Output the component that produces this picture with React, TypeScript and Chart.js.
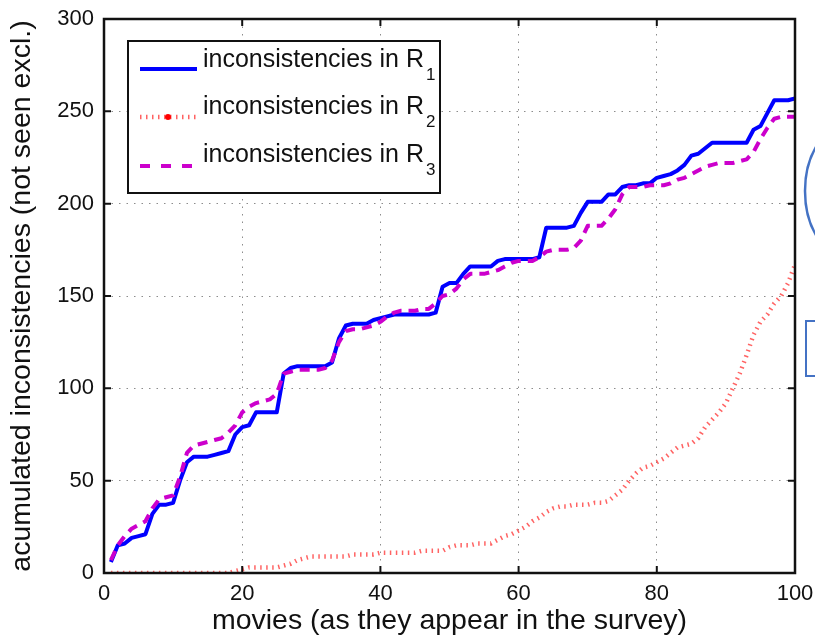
import { useEffect, useRef } from 'react';
import { Chart, registerables } from 'chart.js';

Chart.register(...registerables);

// Movie index (1..100) in survey order
const movies: number[] = Array.from({ length: 100 }, (_, i) => i + 1);

// Accumulated inconsistencies per ranking (not-seen answers excluded)
const inconsistenciesR1 = [
  6, 15, 16, 19, 20, 21, 32, 37, 37, 38,
  50, 60, 63, 63, 63, 64, 65, 66, 75, 79,
  80, 87, 87, 87, 87, 108, 111, 112, 112, 112,
  112, 112, 114, 127, 134, 135, 135, 135, 137, 138,
  139, 140, 140, 140, 140, 140, 140, 141, 155, 157,
  157, 162, 166, 166, 166, 166, 169, 170, 170, 170,
  170, 170, 171, 187, 187, 187, 187, 188, 195, 201,
  201, 201, 205, 205, 209, 210, 210, 211, 211, 214,
  215, 216, 218, 221, 226, 227, 230, 233, 233, 233,
  233, 233, 233, 240, 242, 249, 256, 256, 256, 257,
];

const inconsistenciesR2 = [
  0, 0, 0, 0, 0, 0, 0, 0, 0, 0,
  0, 0, 0, 0, 0, 0, 0, 0, 1, 2,
  3, 3, 3, 3, 3, 4, 5, 7, 8, 9,
  9, 9, 9, 9, 9, 10, 10, 10, 10, 11,
  11, 11, 11, 11, 11, 12, 12, 12, 12, 14,
  15, 15, 15, 16, 16, 16, 18, 20, 21, 23,
  25, 28, 30, 33, 35, 36, 36, 37, 37, 37,
  38, 38, 39, 42, 45, 50, 54, 57, 58, 60,
  62, 65, 68, 69, 70, 73, 79, 83, 87, 92,
  100, 108, 118, 129, 136, 140, 146, 150, 157, 167,
];

const inconsistenciesR3 = [
  7, 15, 20, 24, 26, 28, 35, 40, 41, 42,
  52, 65, 69, 70, 71, 72, 73, 76, 80, 87,
  90, 92, 93, 94, 97, 108, 109, 110, 110, 110,
  110, 111, 115, 125, 131, 132, 132, 133, 134, 136,
  139, 141, 142, 142, 142, 143, 143, 146, 150, 151,
  154, 159, 162, 162, 162, 163, 164, 166, 168, 169,
  169, 169, 171, 174, 175, 175, 175, 176, 180, 188,
  188, 188, 192, 197, 205, 209, 209, 209, 210, 210,
  210, 211, 213, 214, 216, 218, 220, 221, 222, 222,
  222, 223, 224, 228, 235, 241, 246, 247, 247, 247,
];

const xTicks = [0, 20, 40, 60, 80, 100];
const yTicks = [0, 50, 100, 150, 200, 250, 300];

const legendLabel = 'inconsistencies in R';
const legendSubscripts = ['1', '2', '3'];

const xTitle = 'movies (as they appear in the survey)';
const yTitle = 'acumulated inconsistencies (not seen excl.)';

const FONT = '"Liberation Sans", Arial, Helvetica, sans-serif';
const BLUE = '#0000ff';
const RED = 'rgba(255, 60, 60, 0.8)';
const MAGENTA = '#cc00cc';

const toPoints = (values: number[]) => movies.map((m, i) => ({ x: m, y: values[i] }));

// Box around the plot with inward tick marks on all four sides
const axesFrame = {
  id: 'axesFrame',
  afterDatasetsDraw(chart: any) {
    const { ctx, chartArea: a, scales } = chart;
    ctx.save();
    ctx.strokeStyle = '#111';
    ctx.lineWidth = 2;
    const tick = 7;
    ctx.beginPath();
    for (const v of xTicks) {
      const px = scales.x.getPixelForValue(v);
      ctx.moveTo(px, a.bottom);
      ctx.lineTo(px, a.bottom - tick);
      ctx.moveTo(px, a.top);
      ctx.lineTo(px, a.top + tick);
    }
    for (const v of yTicks) {
      const py = scales.y.getPixelForValue(v);
      ctx.moveTo(a.left, py);
      ctx.lineTo(a.left + tick, py);
      ctx.moveTo(a.right, py);
      ctx.lineTo(a.right - tick, py);
    }
    ctx.stroke();
    ctx.lineWidth = 2.5;
    ctx.strokeRect(a.left, a.top, a.right - a.left, a.bottom - a.top);
    ctx.restore();
  },
};

// Boxed legend in the upper-left corner of the plot
const legendBox = {
  id: 'legendBox',
  afterDraw(chart: any) {
    const { ctx } = chart;
    const box = { x: 128, y: 41, w: 312, h: 152 };
    ctx.save();
    ctx.fillStyle = '#fff';
    ctx.fillRect(box.x, box.y, box.w, box.h);
    ctx.strokeStyle = '#111';
    ctx.lineWidth = 2;
    ctx.strokeRect(box.x, box.y, box.w, box.h);

    const rows = [
      { lineY: 69, base: 67, color: BLUE, dash: [] as number[], width: 4 },
      { lineY: 117, base: 114, color: RED, dash: [1.5, 4.5], width: 4.5 },
      { lineY: 166, base: 162, color: MAGENTA, dash: [10, 11], width: 4 },
    ];
    rows.forEach((r, i) => {
      ctx.beginPath();
      ctx.setLineDash(r.dash);
      ctx.lineCap = 'butt';
      ctx.strokeStyle = r.color;
      ctx.lineWidth = r.width;
      ctx.moveTo(140, r.lineY);
      ctx.lineTo(197, r.lineY);
      ctx.stroke();
      ctx.setLineDash([]);
      if (i === 1) {
        ctx.fillStyle = '#ff0000';
        ctx.beginPath();
        ctx.arc(168, r.lineY, 3, 0, Math.PI * 2);
        ctx.fill();
      }
      ctx.fillStyle = '#111';
      ctx.textBaseline = 'alphabetic';
      ctx.textAlign = 'left';
      ctx.font = `25px ${FONT}`;
      ctx.fillText(legendLabel, 203, r.base);
      const w = ctx.measureText(legendLabel).width;
      ctx.font = `17px ${FONT}`;
      ctx.fillText(legendSubscripts[i], 203 + w + 2, r.base + 13);
    });
    ctx.restore();
  },
};

// Shapes that sit just outside the right edge of the axes
const sideMarks = {
  id: 'sideMarks',
  afterDraw(chart: any) {
    const { ctx } = chart;
    ctx.save();
    ctx.strokeStyle = '#4472c4';
    ctx.lineWidth = 2.5;
    ctx.beginPath();
    ctx.ellipse(842, 191, 37, 62, 0, 0, Math.PI * 2);
    ctx.stroke();
    ctx.lineWidth = 2;
    ctx.strokeRect(806, 321, 40, 55);
    ctx.restore();
  },
};

export default function App() {
  const canvasRef = useRef<HTMLCanvasElement | null>(null);

  useEffect(() => {
    const canvas = canvasRef.current;
    if (!canvas) return;

    const gridStyle = {
      display: true,
      color: '#8c8c8c',
      lineWidth: 1,
      drawTicks: false,
      tickLength: 0,
      drawOnChartArea: true,
    };

    const chart = new Chart(canvas, {
      type: 'line',
      data: {
        datasets: [
          {
            label: 'R1',
            data: toPoints(inconsistenciesR1),
            borderColor: BLUE,
            borderWidth: 4,
            order: 2,
          },
          {
            label: 'R2',
            data: toPoints(inconsistenciesR2),
            borderColor: RED,
            borderWidth: 4.5,
            borderDash: [1.5, 4.5],
            borderCapStyle: 'butt',
            order: 1,
          },
          {
            label: 'R3',
            data: toPoints(inconsistenciesR3),
            borderColor: MAGENTA,
            borderWidth: 4,
            borderDash: [10, 7],
            borderCapStyle: 'butt',
            order: 0,
          },
        ],
      },
      options: {
        responsive: false,
        animation: false,
        devicePixelRatio: 1,
        layout: { padding: { left: 0, top: 19, right: 20, bottom: 0 } },
        elements: {
          point: { radius: 0, hoverRadius: 0 },
          line: { tension: 0, fill: false, borderJoinStyle: 'round' },
        },
        plugins: {
          legend: { display: false },
          tooltip: { enabled: false },
        },
        scales: {
          x: {
            type: 'linear',
            min: 0,
            max: 100,
            afterBuildTicks: (scale: any) => {
              scale.ticks = xTicks.map((v) => ({ value: v }));
            },
            afterFit: (scale: any) => {
              scale.height = 64;
              scale.paddingLeft = 0;
              scale.paddingRight = 0;
            },
            grid: gridStyle,
            border: { display: false, dash: [1.5, 6] },
            ticks: {
              autoSkip: false,
              maxRotation: 0,
              padding: 8,
              color: '#111',
              font: { family: FONT, size: 22 },
            },
            title: {
              display: true,
              text: xTitle,
              color: '#111',
              padding: { top: 0, bottom: 2 },
              font: { family: FONT, size: 28.5, lineHeight: 1 },
            },
          },
          y: {
            type: 'linear',
            min: 0,
            max: 300,
            afterBuildTicks: (scale: any) => {
              scale.ticks = yTicks.map((v) => ({ value: v }));
            },
            afterFit: (scale: any) => {
              scale.width = 104;
              scale.paddingTop = 0;
              scale.paddingBottom = 0;
            },
            grid: gridStyle,
            border: { display: false, dash: [1.5, 6] },
            ticks: {
              autoSkip: false,
              padding: 10,
              color: '#111',
              font: { family: FONT, size: 22 },
            },
            title: {
              display: true,
              text: yTitle,
              color: '#111',
              padding: { top: 8, bottom: 0 },
              font: { family: FONT, size: 28.5, lineHeight: 1 },
            },
          },
        },
      } as any,
      plugins: [axesFrame, legendBox, sideMarks],
    });

    return () => chart.destroy();
  }, []);

  return (
    <div
      style={{
        position: 'fixed',
        left: 0,
        top: 0,
        width: 815,
        height: 637,
        background: '#fff',
        overflow: 'hidden',
      }}
    >
      <canvas ref={canvasRef} width={815} height={637} style={{ display: 'block' }} />
    </div>
  );
}
